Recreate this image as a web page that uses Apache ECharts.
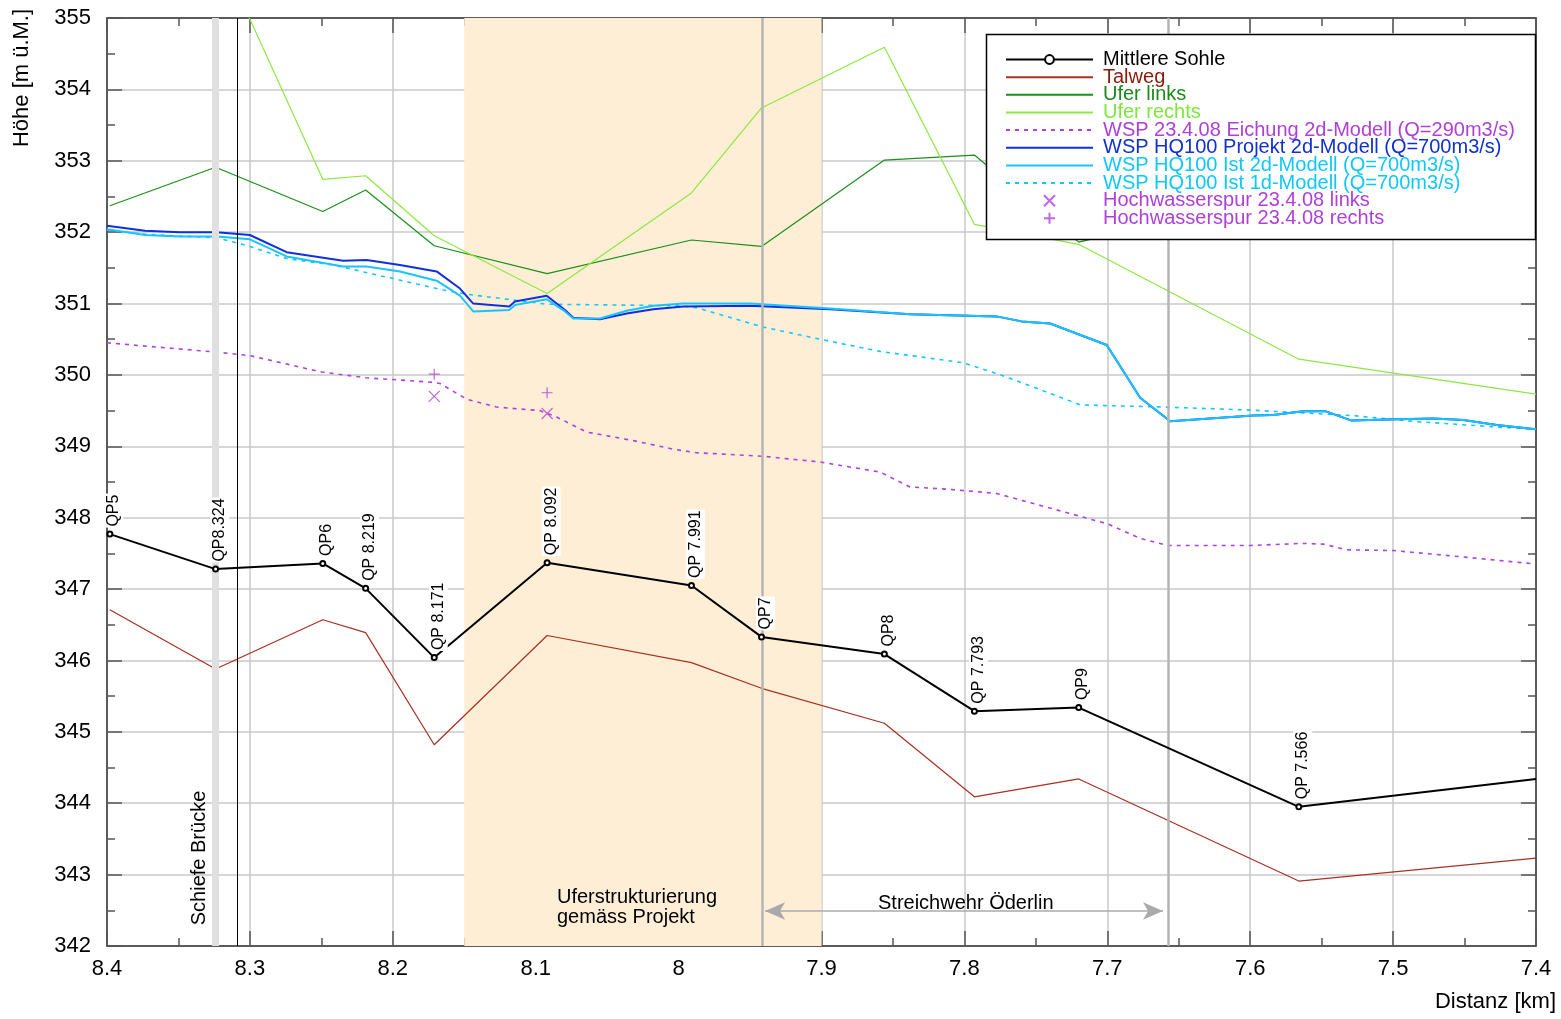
<!DOCTYPE html>
<html>
<head>
<meta charset="utf-8">
<script src="https://cdn.jsdelivr.net/npm/echarts@6/dist/echarts.min.js"></script>
<style>html,body{margin:0;padding:0;background:#fff}#c{width:1561px;height:1019px}</style>
</head>
<body>
<div id="c"></div>
<script>
// ---- data ----
const sohleDist = [8.398, 8.324, 8.249, 8.219, 8.171, 8.092, 7.991, 7.942, 7.856, 7.793, 7.720, 7.566, 7.400];
const qpLabels = ['QP5', 'QP8.324', 'QP6', 'QP 8.219', 'QP 8.171', 'QP 8.092', 'QP 7.991', 'QP7', 'QP8', 'QP 7.793', 'QP9', 'QP 7.566', ''];
const mittlereSohle = [347.77, 347.28, 347.36, 347.01, 346.04, 347.37, 347.05, 346.33, 346.09, 345.29, 345.34, 343.95, 344.34];
const talweg = [346.71, 345.88, 346.57, 346.39, 344.82, 346.35, 345.97, 345.61, 345.12, 344.09, 344.34, 342.91, 343.23];

const uferLinksDist = [8.398, 8.324, 8.249, 8.219, 8.171, 8.092, 7.991, 7.942, 7.856, 7.793, 7.720, 7.566];
const uferLinks = [352.37, 352.91, 352.29, 352.59, 351.81, 351.42, 351.89, 351.80, 353.01, 353.08, 351.86, 352.60];

const uferRechtsDist = [8.324, 8.249, 8.219, 8.171, 8.092, 7.991, 7.942, 7.856, 7.793, 7.720, 7.566, 7.400];
const uferRechts = [356.04, 352.74, 352.79, 351.95, 351.14, 352.55, 353.74, 354.59, 352.11, 351.83, 350.22, 349.73];

const wspDist = [8.400, 8.3734, 8.349, 8.3232, 8.300, 8.2743, 8.2347, 8.2183, 8.195, 8.1693, 8.153, 8.1437, 8.1185, 8.1145, 8.0923, 8.0795, 8.0737, 8.055, 8.0363, 8.0177, 7.9967, 7.950, 7.894, 7.838, 7.7775, 7.760, 7.740, 7.7004, 7.677, 7.656, 7.598, 7.584, 7.563, 7.547, 7.529, 7.4975, 7.4718, 7.4508, 7.4275, 7.400];
const wspProjekt2d = [352.09, 352.02, 352.00, 352.00, 351.96, 351.72, 351.60, 351.61, 351.54, 351.45, 351.21, 351.00, 350.96, 351.03, 351.11, 350.91, 350.80, 350.78, 350.86, 350.92, 350.96, 350.97, 350.92, 350.85, 350.82, 350.75, 350.72, 350.42, 349.68, 349.35, 349.43, 349.44, 349.49, 349.49, 349.36, 349.38, 349.39, 349.37, 349.30, 349.24];
const wspIst2d = [352.04, 351.96, 351.94, 351.94, 351.90, 351.66, 351.52, 351.52, 351.45, 351.32, 351.11, 350.89, 350.91, 350.98, 351.06, 350.89, 350.79, 350.79, 350.90, 350.97, 351.00, 351.00, 350.93, 350.85, 350.82, 350.75, 350.72, 350.42, 349.68, 349.35, 349.43, 349.44, 349.49, 349.49, 349.36, 349.38, 349.39, 349.37, 349.30, 349.24];

const ist1dDist = [8.400, 8.3734, 8.3232, 8.300, 8.2743, 8.2417, 8.209, 8.1997, 8.1647, 8.1483, 8.1157, 8.0923, 8.0457, 7.999, 7.9873, 7.9407, 7.901, 7.859, 7.8008, 7.7774, 7.7424, 7.719, 7.6608, 7.6025, 7.556, 7.528, 7.486, 7.4275, 7.400];
const wspIst1d = [352.03, 351.97, 351.92, 351.80, 351.63, 351.54, 351.39, 351.35, 351.19, 351.13, 351.05, 350.99, 350.98, 350.97, 350.94, 350.67, 350.50, 350.33, 350.17, 350.02, 349.76, 349.58, 349.55, 349.51, 349.46, 349.43, 349.35, 349.27, 349.24];

const eichDist = [8.400, 8.3237, 8.300, 8.2496, 8.2188, 8.174, 8.167, 8.1483, 8.1274, 8.097, 8.0853, 8.0644, 8.0317, 8.0037, 7.9874, 7.9407, 7.901, 7.859, 7.8381, 7.8124, 7.7775, 7.7611, 7.7191, 7.6993, 7.6771, 7.6573, 7.6002, 7.564, 7.5489, 7.5325, 7.4999, 7.451, 7.400];
const wspEichung = [350.45, 350.32, 350.27, 350.04, 349.96, 349.90, 349.88, 349.66, 349.55, 349.50, 349.41, 349.20, 349.08, 348.96, 348.91, 348.86, 348.78, 348.64, 348.43, 348.40, 348.34, 348.25, 348.02, 347.91, 347.71, 347.61, 347.61, 347.64, 347.63, 347.55, 347.54, 347.45, 347.35];

const hwDist = [8.171, 8.092];
const hwLinks = [349.70, 349.46];
const hwRechts = [350.01, 349.75];

const bridgeKm = 8.3245;
const bridgeLineKm = 8.309;
const weirKm = [7.9417, 7.6575];
const projectBand = [8.15, 7.90];
const weirArrow = [7.9395, 7.661, 342.49];
const yRange = [342, 355];

const seriesNames = ['Mittlere Sohle', 'Talweg', 'Ufer links', 'Ufer rechts',
  'WSP 23.4.08 Eichung 2d-Modell (Q=290m3/s)', 'WSP HQ100 Projekt 2d-Modell (Q=700m3/s)',
  'WSP HQ100 Ist 2d-Modell (Q=700m3/s)', 'WSP HQ100 Ist 1d-Modell (Q=700m3/s)',
  'Hochwasserspur 23.4.08 links', 'Hochwasserspur 23.4.08 rechts'];
const legendColors = ['#000000', '#8b1a0a', '#1a8a1a', '#7de83c', '#b040d8', '#1030d0', '#10c8f8', '#10c8f8', '#b040d8', '#b040d8'];

// ---- helpers ----
const zip = (xs, ys) => xs.map((x, i) => [x, ys[i]]);
const FONT = '"Liberation Sans", Arial, Helvetica, sans-serif';
const axisCommon = {
  type: 'value',
  axisLine: { show: true, onZero: false, lineStyle: { color: '#333', width: 1.5 } },
  axisTick: { show: true, inside: true, length: 15, lineStyle: { color: '#555', width: 1.5 } },
  minorTick: { show: true, splitNumber: 2, length: 8, lineStyle: { color: '#555', width: 1.5 } },
};
function xAx(pos, main) {
  return Object.assign({}, axisCommon, {
    min: 7.4, max: 8.4, interval: 0.1, inverse: true, position: pos,
    splitLine: { show: main, lineStyle: { color: '#c8c8c8', width: 1.5 } },
    axisLabel: { show: main, fontSize: 22, color: '#000', margin: 12, fontFamily: FONT,
      formatter: v => String(parseFloat(v.toFixed(1))) }
  });
}
function yAx(pos, main) {
  return Object.assign({}, axisCommon, {
    min: yRange[0], max: yRange[1], interval: 1, position: pos,
    splitLine: { show: main, lineStyle: { color: '#c8c8c8', width: 1.5 } },
    axisLabel: { show: main, fontSize: 22, color: '#000', margin: 16, fontFamily: FONT }
  });
}
const vline = (x, color, width) => [
  { coord: [x, yRange[0]], lineStyle: { color: color, width: width, type: 'solid' } },
  { coord: [x, yRange[1]] }
];
const dotted = [4, 5];
const hideSym = { color: 'rgba(0,0,0,0)', borderWidth: 0, opacity: 0 };

const chart = echarts.init(document.getElementById('c'), null, { renderer: 'canvas' });
const option = {
  animation: false,
  textStyle: { fontFamily: FONT },
  grid: { left: 107, right: 25, top: 18, bottom: 73 },
  xAxis: [xAx('bottom', true), xAx('top', false)],
  yAxis: [yAx('left', true), yAx('right', false)],
  legend: {
    orient: 'vertical', left: 1005, top: 49.5, padding: 0, itemGap: -2.35,
    itemWidth: 87, itemHeight: 11, selectedMode: false, z: 60,
    textStyle: { fontSize: 20, padding: [0, 0, 0, 5], fontFamily: FONT },
    data: seriesNames.map((n, i) => {
      const item = { name: n, textStyle: { color: legendColors[i] } };
      if (i >= 1 && i <= 7) item.itemStyle = hideSym;
      if (i === 0) item.itemStyle = { color: '#000', borderColor: '#000', borderWidth: 1 };
      return item;
    })
  },
  graphic: [
    { type: 'rect', z: 50, shape: { x: 986.5, y: 34.5, width: 549, height: 205 },
      style: { fill: '#fff', stroke: '#000', lineWidth: 1.5 } },
    { type: 'text', z: 50, x: 22, y: 78, rotation: Math.PI / 2,
      style: { text: 'Höhe [m ü.M.]', font: '22px ' + FONT, fill: '#000', textAlign: 'center', textVerticalAlign: 'middle' } },
    { type: 'text', z: 50, x: 1556, y: 1002,
      style: { text: 'Distanz [km]', font: '22px ' + FONT, fill: '#000', textAlign: 'right', textVerticalAlign: 'middle' } },
    { type: 'text', z: 50, x: 199, y: 858, rotation: Math.PI / 2,
      style: { text: 'Schiefe Brücke', font: '20px ' + FONT, fill: '#000', textAlign: 'center', textVerticalAlign: 'middle' } },
    { type: 'text', z: 50, x: 557, y: 887,
      style: { text: 'Uferstrukturierung\ngemäss Projekt', font: '20px ' + FONT, lineHeight: 20, fill: '#000', textAlign: 'left', textVerticalAlign: 'top' } },
    { type: 'text', z: 50, x: 878, y: 903,
      style: { text: 'Streichwehr Öderlin', font: '20px ' + FONT, fill: '#000', textAlign: 'left', textVerticalAlign: 'middle' } }
  ],
  series: [
    { // background band
      type: 'line', data: [], z: -2, silent: true,
      markArea: { silent: true, itemStyle: { color: '#feeed5' },
        data: [[{ xAxis: projectBand[0] }, { xAxis: projectBand[1] }]] }
    },
    { // vertical reference lines
      type: 'line', data: [], z: -1, silent: true,
      markLine: { silent: true, symbol: 'none', precision: 6, label: { show: false }, animation: false,
        data: [
          vline(bridgeKm, '#e0e0e0', 7),
          vline(bridgeLineKm, '#000', 1),
          vline(weirKm[0], '#b4b4b4', 2.5),
          vline(weirKm[1], '#b4b4b4', 2.5)
        ] }
    },
    { // weir arrow
      type: 'line', data: [], z: 1, silent: true,
      markLine: { silent: true, precision: 6, symbol: ['arrow', 'arrow'], symbolSize: [13, 20], label: { show: false },
        lineStyle: { color: '#aaaaaa', width: 1.5, type: 'solid' },
        data: [[{ coord: [weirArrow[0], weirArrow[2]] }, { coord: [weirArrow[1], weirArrow[2]] }]] }
    },
    { name: seriesNames[1], type: 'line', data: zip(sohleDist, talweg), symbol: 'none',
      lineStyle: { color: '#a83020', width: 1.2 }, itemStyle: { color: '#a83020' } },
    { name: seriesNames[2], type: 'line', data: zip(uferLinksDist, uferLinks), symbol: 'none',
      lineStyle: { color: '#1a8f1a', width: 1.2 }, itemStyle: { color: '#1a8f1a' } },
    { name: seriesNames[3], type: 'line', data: zip(uferRechtsDist, uferRechts), symbol: 'none',
      lineStyle: { color: '#8ce840', width: 1.2 }, itemStyle: { color: '#8ce840' } },
    { name: seriesNames[4], type: 'line', data: zip(eichDist, wspEichung), symbol: 'none',
      lineStyle: { color: '#b040e0', width: 1.6, type: dotted }, itemStyle: { color: '#b040e0' } },
    { name: seriesNames[7], type: 'line', data: zip(ist1dDist, wspIst1d), symbol: 'none',
      lineStyle: { color: '#10c8ff', width: 1.6, type: dotted }, itemStyle: { color: '#10c8ff' } },
    { name: seriesNames[5], type: 'line', data: zip(wspDist, wspProjekt2d), symbol: 'none',
      lineStyle: { color: '#1030e0', width: 2 }, itemStyle: { color: '#1030e0' } },
    { name: seriesNames[6], type: 'line', data: zip(wspDist, wspIst2d), symbol: 'none',
      lineStyle: { color: '#18c4ff', width: 2 }, itemStyle: { color: '#18c4ff' } },
    { name: seriesNames[8], type: 'scatter', data: zip(hwDist, hwLinks),
      symbol: 'path://M0,0L10,10M10,0L0,10', symbolSize: 11,
      itemStyle: { color: 'transparent', borderColor: '#b040e0', borderWidth: 1.2 } },
    { name: seriesNames[9], type: 'scatter', data: zip(hwDist, hwRechts),
      symbol: 'path://M5,0L5,10M0,5L10,5', symbolSize: 11,
      itemStyle: { color: 'transparent', borderColor: '#b040e0', borderWidth: 1.2 } },
    { name: seriesNames[0], type: 'line', z: 5,
      data: sohleDist.map((d, i) => {
        const it = { value: [d, mittlereSohle[i]], label: { show: qpLabels[i] !== '' } };
        if (qpLabels[i] === '') it.symbol = 'none';
        return it;
      }),
      symbol: 'emptyCircle', symbolSize: 5, showAllSymbol: true,
      lineStyle: { color: '#000', width: 2 },
      itemStyle: { color: '#000', borderColor: '#000', borderWidth: 1 },
      label: { show: true, position: 'top', rotate: 90, align: 'left', verticalAlign: 'middle', distance: 3,
        offset: [0, 4],
        fontSize: 16, color: '#000', backgroundColor: '#fff', padding: [2, 1, 1, 1], fontFamily: FONT,
        formatter: p => qpLabels[p.dataIndex] }
    }
  ]
};
chart.setOption(option);
</script>
</body>
</html>
